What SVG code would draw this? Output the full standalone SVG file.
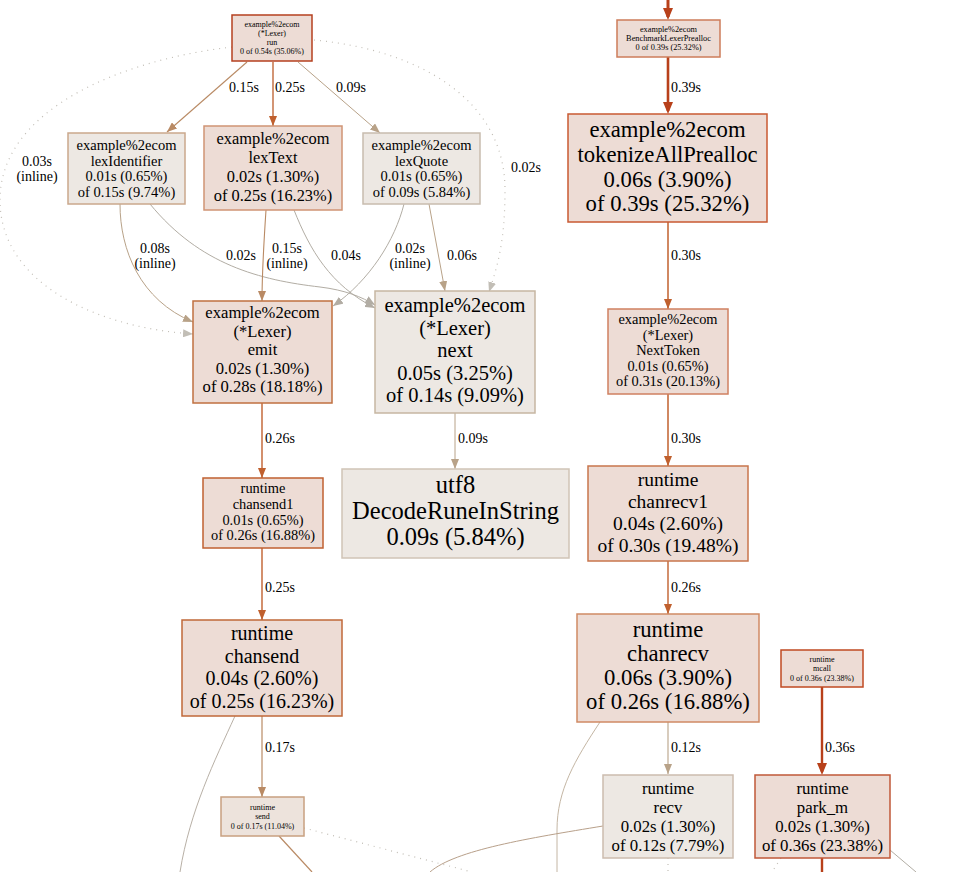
<svg xmlns="http://www.w3.org/2000/svg" width="970" height="872" viewBox="0 0 970 872">
<defs>
<style>
text{font-family:"Liberation Serif","Times New Roman",serif;fill:#000;text-anchor:middle}
.lbl{font-size:14px}
.st{text-anchor:start}
.e{fill:none}
.dot{fill:none;stroke:#c2beb6;stroke-width:1.2;stroke-dasharray:1,5}
.hot{fill:#eddcd5}
.warm{fill:#ede3dc}
.cool{fill:#ede8e3}
</style>
<marker id="mDark" markerUnits="userSpaceOnUse" viewBox="0 0 12 10" markerWidth="12" markerHeight="10" refX="9" refY="5" orient="auto"><path d="M0,0L12,5L0,10z" fill="#b8401a"/></marker>
<marker id="mOr" markerUnits="userSpaceOnUse" viewBox="0 0 10 8" markerWidth="10" markerHeight="8" refX="10" refY="4" orient="auto"><path d="M0,0L10,4L0,8z" fill="#c0602e"/></marker>
<marker id="mTan" markerUnits="userSpaceOnUse" viewBox="0 0 10 8" markerWidth="10" markerHeight="8" refX="10" refY="4" orient="auto"><path d="M0,0L10,4L0,8z" fill="#b98a64"/></marker>
<marker id="mLt" markerUnits="userSpaceOnUse" viewBox="0 0 10 8" markerWidth="10" markerHeight="8" refX="10" refY="4" orient="auto"><path d="M0,0L10,4L0,8z" fill="#b8a288"/></marker>
<marker id="mGr" markerUnits="userSpaceOnUse" viewBox="0 0 10 8" markerWidth="10" markerHeight="8" refX="10" refY="4" orient="auto"><path d="M0,0L10,4L0,8z" fill="#b2ada4"/></marker>
<marker id="mDot" markerUnits="userSpaceOnUse" viewBox="0 0 10 8" markerWidth="10" markerHeight="8" refX="10" refY="4" orient="auto"><path d="M0,0L10,4L0,8z" fill="#c2beb6"/></marker>
</defs>
<rect width="970" height="872" fill="#fff"/>

<g id="edges">
<path class="e" d="M668,0L668,17" stroke="#b8401a" stroke-width="3" marker-end="url(#mDark)"/>
<path class="e" d="M668,57L668,111" stroke="#b8401a" stroke-width="2.6" marker-end="url(#mDark)"/>
<path class="e" d="M668,222L668,309" stroke="#c0602e" stroke-width="1.5" marker-end="url(#mOr)"/>
<path class="e" d="M668,394L668,466" stroke="#c0602e" stroke-width="1.5" marker-end="url(#mOr)"/>
<path class="e" d="M668,561L668,614" stroke="#c0602e" stroke-width="1.4" marker-end="url(#mOr)"/>
<path class="e" d="M668,722L668,774" stroke="#b8a288" stroke-width="1.1" marker-end="url(#mLt)"/>
<path class="e" d="M822,687L822,772" stroke="#b8401a" stroke-width="2.4" marker-end="url(#mDark)"/>
<path class="e" d="M822,858L822,872" stroke="#b8401a" stroke-width="2.4"/>

<path class="e" d="M247,62L167,132" stroke="#b98a64" stroke-width="1.1" marker-end="url(#mTan)"/>
<path class="e" d="M273,62L273,126" stroke="#c0683a" stroke-width="1.4" marker-end="url(#mOr)"/>
<path class="e" d="M298,62L380,133" stroke="#b8a288" stroke-width="1" marker-end="url(#mLt)"/>
<path class="dot" d="M232,47C120,60 0,110 0,200C0,285 100,328 193,334" marker-end="url(#mDot)"/>
<path class="dot" d="M314,40C420,50 505,100 505,190C505,240 498,265 489,292" marker-end="url(#mDot)"/>

<path class="e" d="M120,204C120,250 140,300 193,322" stroke="#b8a288" stroke-width="1" marker-end="url(#mLt)"/>
<path class="e" d="M150,204C200,265 260,280 320,287C345,290 362,297 375,305" stroke="#b2ada4" stroke-width="1" marker-end="url(#mGr)"/>
<path class="e" d="M266,210C264,240 262,270 262,301" stroke="#b98a64" stroke-width="1.1" marker-end="url(#mTan)"/>
<path class="e" d="M294,210C310,250 330,285 375,308" stroke="#b2ada4" stroke-width="1" marker-end="url(#mGr)"/>
<path class="e" d="M404,204C395,240 370,280 333,306" stroke="#b2ada4" stroke-width="1" marker-end="url(#mGr)"/>
<path class="e" d="M429,204L445,291" stroke="#b8a288" stroke-width="1" marker-end="url(#mLt)"/>
<path class="e" d="M455,413L455,469" stroke="#b8a288" stroke-width="1" marker-end="url(#mLt)"/>
<path class="e" d="M262,403L262,478" stroke="#c0602e" stroke-width="1.4" marker-end="url(#mOr)"/>
<path class="e" d="M262,548L262,620" stroke="#c0602e" stroke-width="1.4" marker-end="url(#mOr)"/>
<path class="e" d="M262,716L262,797" stroke="#b98a64" stroke-width="1.2" marker-end="url(#mTan)"/>
<path class="e" d="M279,836L312,872" stroke="#b98a64" stroke-width="1.2"/>
<path class="dot" d="M304,828L472,872"/>
<path class="e" d="M235,716C215,760 190,810 180,872" stroke="#b8b0a6" stroke-width="1"/>
<path class="e" d="M600,722C575,760 557,790 557,830L557,872" stroke="#c4b6a4" stroke-width="1"/>
<path class="e" d="M603,826C530,838 455,850 430,872" stroke="#b8a08a" stroke-width="1"/>
<path class="dot" d="M668,858L668,872"/>
<path class="dot" d="M781,858L772,872"/>
<path class="e" d="M890,850L916,872" stroke="#b2ada4" stroke-width="1"/>

<text class="lbl" x="244" y="92">0.15s</text>
<text class="lbl" x="290" y="92">0.25s</text>
<text class="lbl" x="351" y="92">0.09s</text>
<text class="lbl" x="37" y="166">0.03s</text>
<text class="lbl" x="37" y="181">(inline)</text>
<text class="lbl" x="526" y="172">0.02s</text>
<text class="lbl" x="155" y="253">0.08s</text>
<text class="lbl" x="155" y="268">(inline)</text>
<text class="lbl" x="241" y="260">0.02s</text>
<text class="lbl" x="287" y="253">0.15s</text>
<text class="lbl" x="287" y="268">(inline)</text>
<text class="lbl" x="346" y="260">0.04s</text>
<text class="lbl" x="410" y="253">0.02s</text>
<text class="lbl" x="410" y="268">(inline)</text>
<text class="lbl" x="462" y="260">0.06s</text>
<text class="lbl st" x="671" y="92">0.39s</text>
<text class="lbl st" x="671" y="260">0.30s</text>
<text class="lbl st" x="671" y="443">0.30s</text>
<text class="lbl st" x="671" y="592">0.26s</text>
<text class="lbl st" x="671" y="752">0.12s</text>
<text class="lbl st" x="825" y="752">0.36s</text>
<text class="lbl st" x="265" y="443">0.26s</text>
<text class="lbl st" x="265" y="592">0.25s</text>
<text class="lbl st" x="265" y="752">0.17s</text>
<text class="lbl st" x="458" y="443">0.09s</text>
</g>

<g id="n-run">
<rect class="hot" x="232" y="15" width="80" height="46" stroke="#b5401f" stroke-width="1.5"/>
<text font-size="8" x="272" y="26.5">example%2ecom</text>
<text font-size="8" x="272" y="35.5">(*Lexer)</text>
<text font-size="8" x="272" y="44.5">run</text>
<text font-size="8" x="272" y="53.5">0 of 0.54s (35.06%)</text>
</g>

<g id="n-bench">
<rect class="hot" x="617" y="20" width="103" height="37" stroke="#cd7c5a" stroke-width="1.5"/>
<text font-size="8.3" x="668.5" y="32">example%2ecom</text>
<text font-size="8.3" x="668.5" y="41">BenchmarkLexerPrealloc</text>
<text font-size="8.3" x="668.5" y="50">0 of 0.39s (25.32%)</text>
</g>

<g id="n-tokenize">
<rect class="hot" x="568" y="114" width="199" height="108" stroke="#c95a32" stroke-width="1.5"/>
<text font-size="22.7" x="667.5" y="137">example%2ecom</text>
<text font-size="22.7" x="667.5" y="162">tokenizeAllPrealloc</text>
<text font-size="22.7" x="667.5" y="187">0.06s (3.90%)</text>
<text font-size="22.7" x="667.5" y="211">of 0.39s (25.32%)</text>
</g>

<g id="n-nexttoken">
<rect class="hot" x="608" y="309" width="120" height="85" stroke="#cf8060" stroke-width="1.5"/>
<text font-size="14.4" x="668" y="324">example%2ecom</text>
<text font-size="14.4" x="668" y="339.5">(*Lexer)</text>
<text font-size="14.4" x="668" y="355">NextToken</text>
<text font-size="14.4" x="668" y="370.5">0.01s (0.65%)</text>
<text font-size="14.4" x="668" y="386">of 0.31s (20.13%)</text>
</g>

<g id="n-chanrecv1">
<rect class="hot" x="588" y="466" width="160" height="95" stroke="#c8764c" stroke-width="1.5"/>
<text font-size="19.5" x="668" y="486">runtime</text>
<text font-size="19.5" x="668" y="508">chanrecv1</text>
<text font-size="19.5" x="668" y="530">0.04s (2.60%)</text>
<text font-size="19.5" x="668" y="552">of 0.30s (19.48%)</text>
</g>

<g id="n-chanrecv">
<rect class="hot" x="577" y="614" width="182" height="108" stroke="#d08a64" stroke-width="1.5"/>
<text font-size="22.7" x="668" y="637">runtime</text>
<text font-size="22.7" x="668" y="661">chanrecv</text>
<text font-size="22.7" x="668" y="685">0.06s (3.90%)</text>
<text font-size="22.7" x="668" y="709">of 0.26s (16.88%)</text>
</g>

<g id="n-recv">
<rect class="cool" x="603" y="775" width="130" height="83" stroke="#ccbcae" stroke-width="1.5"/>
<text font-size="16.8" x="668" y="794">runtime</text>
<text font-size="16.8" x="668" y="813">recv</text>
<text font-size="16.8" x="668" y="832">0.02s (1.30%)</text>
<text font-size="16.8" x="668" y="851">of 0.12s (7.79%)</text>
</g>

<g id="n-mcall">
<rect class="hot" x="781" y="650" width="82" height="37" stroke="#c04a22" stroke-width="1.5"/>
<text font-size="8" x="822" y="662">runtime</text>
<text font-size="8" x="822" y="671">mcall</text>
<text font-size="8" x="822" y="681">0 of 0.36s (23.38%)</text>
</g>

<g id="n-parkm">
<rect class="hot" x="755" y="775" width="135" height="83" stroke="#c05838" stroke-width="1.5"/>
<text font-size="16.8" x="822.5" y="794">runtime</text>
<text font-size="16.8" x="822.5" y="813">park_m</text>
<text font-size="16.8" x="822.5" y="832">0.02s (1.30%)</text>
<text font-size="16.8" x="822.5" y="851">of 0.36s (23.38%)</text>
</g>

<g id="n-lexidentifier">
<rect class="cool" x="68" y="133" width="117" height="71" stroke="#caa88c" stroke-width="1.5"/>
<text font-size="14.5" x="126.5" y="150">example%2ecom</text>
<text font-size="14.5" x="126.5" y="165.5">lexIdentifier</text>
<text font-size="14.5" x="126.5" y="181">0.01s (0.65%)</text>
<text font-size="14.5" x="126.5" y="196.5">of 0.15s (9.74%)</text>
</g>

<g id="n-lextext">
<rect class="hot" x="204" y="126" width="138" height="84" stroke="#d09474" stroke-width="1.5"/>
<text font-size="16.4" x="273" y="144">example%2ecom</text>
<text font-size="16.4" x="273" y="163">lexText</text>
<text font-size="16.4" x="273" y="182">0.02s (1.30%)</text>
<text font-size="16.4" x="273" y="201">of 0.25s (16.23%)</text>
</g>

<g id="n-lexquote">
<rect class="cool" x="363" y="133" width="117" height="71" stroke="#c8bcae" stroke-width="1.5"/>
<text font-size="14.5" x="421.5" y="150">example%2ecom</text>
<text font-size="14.5" x="421.5" y="165.5">lexQuote</text>
<text font-size="14.5" x="421.5" y="181">0.01s (0.65%)</text>
<text font-size="14.5" x="421.5" y="196.5">of 0.09s (5.84%)</text>
</g>

<g id="n-emit">
<rect class="hot" x="193" y="301" width="139" height="102" stroke="#c07040" stroke-width="1.5"/>
<text font-size="16.6" x="262.5" y="318">example%2ecom</text>
<text font-size="16.6" x="262.5" y="336.5">(*Lexer)</text>
<text font-size="16.6" x="262.5" y="355">emit</text>
<text font-size="16.6" x="262.5" y="373.5">0.02s (1.30%)</text>
<text font-size="16.6" x="262.5" y="392">of 0.28s (18.18%)</text>
</g>

<g id="n-next">
<rect class="cool" x="375" y="291" width="160" height="122" stroke="#c6b6a2" stroke-width="1.5"/>
<text font-size="20.5" x="455" y="312">example%2ecom</text>
<text font-size="20.5" x="455" y="334.5">(*Lexer)</text>
<text font-size="20.5" x="455" y="357">next</text>
<text font-size="20.5" x="455" y="379.5">0.05s (3.25%)</text>
<text font-size="20.5" x="455" y="402">of 0.14s (9.09%)</text>
</g>

<g id="n-utf8">
<rect class="cool" x="342" y="469" width="227" height="89" stroke="#d0c4b6" stroke-width="1.5"/>
<text font-size="24.5" x="455.5" y="493">utf8</text>
<text font-size="24.5" x="455.5" y="519">DecodeRuneInString</text>
<text font-size="24.5" x="455.5" y="545">0.09s (5.84%)</text>
</g>

<g id="n-chansend1">
<rect class="hot" x="203" y="478" width="120" height="70" stroke="#c06030" stroke-width="1.5"/>
<text font-size="14.4" x="263" y="493">runtime</text>
<text font-size="14.4" x="263" y="509">chansend1</text>
<text font-size="14.4" x="263" y="524.5">0.01s (0.65%)</text>
<text font-size="14.4" x="263" y="540">of 0.26s (16.88%)</text>
</g>

<g id="n-chansend">
<rect class="hot" x="182" y="620" width="160" height="96" stroke="#c06838" stroke-width="1.5"/>
<text font-size="20" x="262" y="640">runtime</text>
<text font-size="20" x="262" y="662.5">chansend</text>
<text font-size="20" x="262" y="685">0.04s (2.60%)</text>
<text font-size="20" x="262" y="707.5">of 0.25s (16.23%)</text>
</g>

<g id="n-send">
<rect class="warm" x="221" y="797" width="83" height="39" stroke="#c8a080" stroke-width="1.5"/>
<text font-size="8" x="262.5" y="810">runtime</text>
<text font-size="8" x="262.5" y="819">send</text>
<text font-size="8" x="262.5" y="829">0 of 0.17s (11.04%)</text>
</g>
</svg>
